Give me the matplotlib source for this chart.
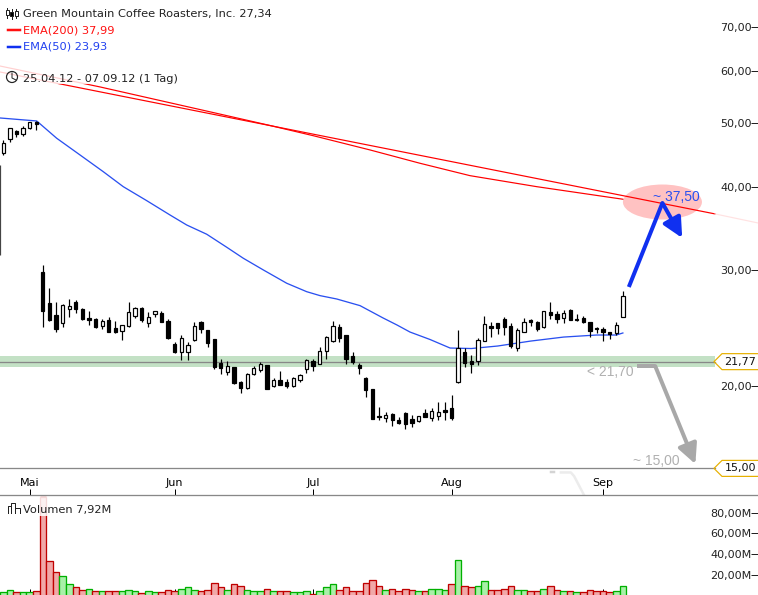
import matplotlib
matplotlib.use("Agg")
import numpy as np
import matplotlib.pyplot as plt
from matplotlib.lines import Line2D
from matplotlib.patches import Ellipse, Rectangle
from matplotlib.transforms import Affine2D, IdentityTransform

# daily candles 25.04.12 - 07.09.12
opens = [45.10, 47.35, 48.69, 48.18, 49.20, 50.25,
         29.77, 26.73, 25.63, 24.92, 26.17, 26.83, 26.17, 25.36, 25.27, 24.66, 25.18, 24.48, 24.23, 24.66,
         25.54, 26.27, 24.92, 25.72, 25.81, 25.09, 23.15, 22.51, 22.51, 23.47, 25.01, 24.31, 23.56, 21.66,
         20.99, 21.36, 20.28, 19.86, 20.85, 21.14, 21.51, 20.00, 20.42, 20.28, 20.00, 20.42, 21.22, 21.81,
         21.59, 22.59, 23.39, 24.57, 23.89, 22.20, 21.51, 20.56, 19.79, 18.01, 17.89, 18.14, 17.76, 18.20,
         17.83, 17.70, 18.20, 17.89, 18.01, 18.39, 18.52, 20.28, 22.51, 21.81, 21.81, 23.39, 24.66, 24.92,
         25.27, 24.66, 22.83, 24.14, 25.18, 25.01, 24.57, 25.90, 25.72, 25.36, 26.08, 25.27, 25.36, 25.01,
         24.48, 24.40, 24.14, 24.06, 25.45]
closes = [46.69, 49.20, 48.18, 49.20, 50.25, 49.90,
          25.99, 25.18, 24.40, 26.54, 26.45, 26.17, 25.27, 25.18, 24.57, 25.09, 24.14, 24.14, 24.74, 25.90,
          26.27, 25.18, 25.45, 25.99, 25.01, 23.64, 22.51, 23.64, 23.07, 24.66, 24.40, 23.23, 21.36, 21.29,
          21.44, 20.21, 19.86, 20.85, 21.29, 21.59, 19.79, 20.42, 20.07, 20.00, 20.56, 20.78, 21.89, 21.44,
          22.59, 23.72, 24.66, 23.64, 21.97, 21.74, 21.29, 19.72, 17.83, 17.95, 18.07, 17.76, 17.58, 17.52,
          17.58, 18.01, 17.95, 18.33, 18.26, 18.26, 17.89, 22.83, 21.66, 21.59, 23.47, 24.83, 24.48, 24.48,
          24.57, 22.99, 24.31, 25.01, 25.01, 24.40, 25.99, 25.63, 25.27, 25.81, 25.18, 25.18, 25.01, 24.23,
          24.40, 24.14, 23.97, 24.74, 27.34]
highs = [47.18, 49.20, 48.86, 49.57, 50.25, 50.42,
         30.51, 28.18, 26.83, 26.64, 27.11, 27.01, 26.27, 25.99, 25.36, 25.27, 25.45, 25.09, 24.74, 26.83,
         26.36, 26.36, 25.90, 25.99, 25.99, 25.27, 23.31, 23.89, 23.31, 25.01, 25.09, 24.31, 23.56, 21.97,
         21.81, 21.36, 20.35, 20.92, 21.44, 21.74, 21.51, 20.56, 21.07, 20.49, 20.63, 20.85, 21.97, 21.97,
         22.91, 23.81, 25.09, 24.83, 23.89, 22.51, 21.66, 20.63, 19.79, 18.59, 18.26, 18.20, 17.95, 18.26,
         18.07, 18.01, 18.46, 18.52, 18.91, 18.91, 19.38, 24.31, 22.83, 22.28, 23.64, 25.54, 25.01, 24.92,
         25.45, 24.92, 24.48, 25.36, 25.27, 25.09, 25.99, 26.83, 25.99, 26.08, 26.17, 25.72, 25.54, 25.01,
         24.57, 24.57, 24.14, 25.01, 27.88]
lows = [44.80, 46.85, 47.68, 47.85, 49.03, 48.86,
        24.57, 25.09, 24.14, 24.57, 25.45, 25.81, 25.18, 24.74, 24.48, 24.40, 24.14, 24.06, 23.47, 24.57,
        25.36, 25.01, 24.57, 25.45, 25.01, 23.56, 22.43, 21.89, 21.89, 23.39, 24.06, 22.91, 21.22, 20.85,
        20.78, 20.14, 19.52, 19.79, 20.78, 20.99, 19.79, 19.93, 20.07, 19.86, 19.93, 20.28, 20.92, 21.07,
        21.59, 21.97, 23.31, 23.31, 21.59, 21.59, 20.85, 19.25, 17.83, 17.76, 17.64, 17.40, 17.52, 17.22,
        17.34, 17.64, 17.95, 17.70, 17.76, 17.76, 17.76, 20.21, 21.36, 20.92, 21.51, 23.39, 23.72, 23.97,
        23.89, 22.83, 22.59, 24.14, 24.66, 24.23, 24.48, 25.27, 24.92, 24.92, 25.18, 25.09, 24.92, 23.72,
        24.06, 23.39, 23.56, 23.89, 25.45]

# volume in millions, g = up day, r = down day
volumes = [3.7, 5.9, 3.7, 3.7, 3.7, 5.0, 95.0, 33.8, 23.3, 19.4, 10.8, 8.5, 5.9, 6.9, 5.0, 5.0, 4.1, 4.1, 5.0,
           5.9, 5.0, 2.7, 4.1, 3.1, 3.1, 5.9, 5.0, 6.9, 7.9, 5.9, 5.0, 5.9, 12.7, 7.9, 5.9, 10.8, 8.9, 5.9,
           5.0, 4.1, 6.9, 5.0, 5.0, 4.1, 3.1, 3.1, 5.0, 2.1, 4.1, 7.9, 11.7, 5.9, 7.9, 5.0, 5.0, 12.7, 14.9,
           8.9, 5.9, 6.9, 5.0, 6.9, 5.9, 5.0, 5.0, 6.9, 6.9, 5.9, 10.8, 34.8, 9.8, 7.9, 8.9, 13.7, 5.9, 5.9,
           6.9, 8.9, 5.9, 5.9, 5.0, 5.0, 6.9, 8.9, 5.9, 4.1, 4.1, 3.1, 3.1, 5.9, 4.1, 4.1, 3.1, 4.1, 8.9]
volume_dirs = "ggrggrrrrggrrgrgrrgggrggrrrgggrrrrgrrgggrgrrgggrggg" \
              "rrrrrrrgrrrrgrgggrgrrggrrrrggrrgrrgrgrrrrrgg"

ema50_idx = [-0.5, 5.07, 8.1, 11.64, 15.17, 18.2, 21.76, 25.29, 27.83, 30.86, 33.9, 36.41, 39.45, 43.0, 46.03,
             48.05, 50.59, 54.12, 57.6, 59.73, 61.7, 64.74, 67.78, 71, 75, 80, 85, 90, 93, 94]
ema50_val = [50.95, 50.42, 47.47, 44.78, 42.24, 40.09, 38.18, 36.32, 35.07, 33.96, 32.45, 31.23, 29.98, 28.62,
             27.79, 27.41, 27.09, 26.47, 25.36, 24.74, 24.14, 23.52, 22.83, 22.79, 22.99, 23.39, 23.72, 23.89,
             23.89, 24.06]
ema200_idx = [-0.5, 14.7, 32.12, 40.47, 47.0, 55.64, 63.22, 70.81, 80.93, 94.0]
ema200_val = [61.08, 56.77, 51.85, 49.63, 47.90, 45.57, 43.50, 41.66, 40.09, 38.37]

# trend line and its faded end
trend_idx = [-0.5, 108.0]
trend_val = [59.82, 36.45]
trend_fade_idx = [108.0, 114.5]
trend_fade_val = [36.45, 35.32]

support_level = 21.77
support_band = (21.36, 22.20)
target_level = 15.00

blue_arrow_idx = [94.9, 100.0, 103.0]
blue_arrow_val = [28.25, 37.87, 33.52]
grey_arrow_idx = [96.2, 98.9, 105.0]
grey_arrow_val = [21.44, 21.44, 15.23]

price_ticks = [20, 30, 40, 50, 60, 70]
price_labels = ["20,00", "30,00", "40,00", "50,00", "60,00", "70,00"]
volume_ticks = [20, 40, 60, 80]
volume_labels = ["20,00M", "40,00M", "60,00M", "80,00M"]
month_idx = [4, 26, 47, 68, 91]
month_labels = ["Mai", "Jun", "Jul", "Aug", "Sep"]

W, H = 758, 595
GREY = "#888888"
PX = 0.72  # one pixel in points at dpi 100

plt.rcParams["font.family"] = "DejaVu Sans"
plt.rcParams["font.size"] = 8.0
plt.rcParams["text.color"] = "#222222"

fig = plt.figure(figsize=(W / 100, H / 100), dpi=100)
vol = fig.add_axes([0, 0, 1, 100 / H])
ax = fig.add_axes([0, 100 / H, 1, 495 / H])
ax.patch.set_visible(False)

# image pixels (origin top left) for the chrome around the chart
px = Affine2D().scale(1, -1).translate(0, H)

idx = np.arange(len(opens))
opens = np.array(opens)
closes = np.array(closes)

ax.set_yscale("log")
ax.set_xlim(-0.5, 114.5)
ax.set_ylim(13.67, 76.9)
vol.set_xlim(-0.5, 114.5)
vol.set_ylim(0.67, 97)

# support band and level lines
ax.fill_between([-0.5, 108], support_band[0], support_band[1], color="#c3e1c5", lw=0, zorder=1)
ax.plot([-0.5, 108], [support_level] * 2, color=GREY, lw=1.3 * PX, zorder=1.5)
ax.plot([-0.5, 108], [target_level] * 2, color=GREY, lw=1.3 * PX, zorder=1.5)

# marker round the target price, in pixels so the log scale does not bend it
cx, cy = ax.transData.transform((100.0, 38.0))
ax.add_patch(Ellipse((cx, cy), 79, 35, transform=IdentityTransform(), color="#ffc2c2", lw=0, zorder=1))

# averages and trend line
ax.plot(trend_idx, trend_val, color="#ff0000", lw=1.2 * PX, zorder=2)
ax.plot(trend_fade_idx, trend_fade_val, color="#ffe2e2", lw=1.2 * PX, zorder=2)
ax.plot(ema200_idx, ema200_val, color="#ff0000", lw=1.2 * PX, zorder=2)
ax.plot(ema50_idx, ema50_val, color="#2a50f0", lw=1.3 * PX, zorder=2)

# candles
bottoms = np.minimum(opens, closes)
heights = np.abs(closes - opens)
faces = ["white" if c > o else "black" for o, c in zip(opens, closes)]
ax.vlines(idx, lows, highs, color="black", lw=1.2 * PX, zorder=3)
ax.bar(idx, heights, bottom=bottoms, width=0.5, color=faces, edgecolor="black", lw=1.2 * PX, zorder=4)
ax.vlines(-0.45, 31.6, 43.2, color="#444444", lw=1.2 * PX, zorder=3)

# faint remains of the watermark
ax.plot([83.1, 83.5], [14.79, 14.79], color="#d4d4d4", lw=2.5 * PX, zorder=1)
ax.plot([84.6, 86.1, 86.6, 88.1], [14.79, 14.79, 14.60, 13.67], color="#ececec", lw=2.5 * PX, zorder=1)

# drawn arrows
ax.plot(blue_arrow_idx[:2], blue_arrow_val[:2], color="#1030f0", lw=4 * PX, zorder=5, solid_capstyle="butt")
ax.annotate("", xy=(blue_arrow_idx[2], blue_arrow_val[2]), xytext=(blue_arrow_idx[1], blue_arrow_val[1]),
            arrowprops=dict(arrowstyle="-|>,head_length=0.85,head_width=0.42", color="#1030f0", lw=4 * PX,
                            mutation_scale=14, shrinkA=0, shrinkB=0), zorder=5)
ax.plot(grey_arrow_idx[:2], grey_arrow_val[:2], color="#a8a8a8", lw=4 * PX, zorder=5, solid_capstyle="butt")
ax.annotate("", xy=(grey_arrow_idx[2], grey_arrow_val[2]), xytext=(grey_arrow_idx[1], grey_arrow_val[1]),
            arrowprops=dict(arrowstyle="-|>,head_length=0.85,head_width=0.42", color="#a8a8a8", lw=4 * PX,
                            mutation_scale=14, shrinkA=0, shrinkB=0), zorder=5)
ax.text(98.5, 38.7, "~ 37,50", color="#2a50f0", family="Liberation Sans", fontsize=10, zorder=6, va="center")
ax.text(88.6, 20.97, "< 21,70", color="#b0b0b0", family="Liberation Sans", fontsize=10, zorder=6, va="center")
ax.text(95.6, 15.40, "~ 15,00", color="#b0b0b0", family="Liberation Sans", fontsize=10, zorder=6, va="center")

# volume bars
for i, (v, d) in enumerate(zip(volumes, volume_dirs)):
    face, edge = ("#a8f0a8", "#00b000") if d == "g" else ("#f0a8a8", "#c00000")
    vol.bar(i, v, width=1.0, color=face, edgecolor=edge, lw=1.3 * PX, zorder=2)

# axes
for a in (ax, vol):
    for side in ("top", "left", "right", "bottom"):
        a.spines[side].set_visible(False)
    a.yaxis.tick_right()
    a.minorticks_off()
ax.spines["bottom"].set_visible(True)
ax.spines["bottom"].set_color(GREY)
ax.spines["bottom"].set_linewidth(1.3 * PX)

ax.set_yticks(price_ticks, price_labels)
ax.yaxis.set_minor_locator(plt.NullLocator())
vol.set_yticks(volume_ticks, volume_labels)
for a in (ax, vol):
    a.tick_params(axis="y", direction="in", length=5, width=PX, pad=-4.5, colors="#222222")
    for lab in a.get_yticklabels():
        lab.set_ha("right")
ax.set_xticks(month_idx, month_labels)
ax.tick_params(axis="x", direction="in", length=4, width=PX, pad=-12.5)
vol.set_xticks(month_idx, [""] * 5)
vol.tick_params(axis="x", direction="in", length=4, width=PX, zorder=5)

# level tags on the right
for level, label in ((support_level, "21,77"), (target_level, "15,00")):
    y = ax.transData.transform((0, level))[1]
    pts = [(758, y + 8), (722, y + 8), (714, y), (722, y - 8), (758, y - 8)]
    ax.add_line(Line2D(*zip(*pts), transform=IdentityTransform(), color="#e6b000", lw=1.2 * PX, clip_on=False,
                       zorder=6))
    fig.text(756 / W, y / H, label, ha="right", va="center", color="#111111", fontsize=8.0)

# legend haze, lines under it fade out
ax.add_patch(Rectangle((0, 0), 280, 84, transform=px, color="white", alpha=0.82, lw=0, zorder=7))
vol.add_patch(Rectangle((0, 497), 115, 19, transform=px, color="white", alpha=0.85, lw=0, zorder=7))

LEGEND_SIZE = 8.2
fig.text(23 / W, 1 - 14.5 / H, "Green Mountain Coffee Roasters, Inc. 27,34", va="center", zorder=9,
         fontsize=LEGEND_SIZE)
fig.text(23 / W, 1 - 30.5 / H, "EMA(200) 37,99", va="center", color="#ff1010", zorder=9, fontsize=LEGEND_SIZE)
fig.text(23 / W, 1 - 46.5 / H, "EMA(50) 23,93", va="center", color="#2040f0", zorder=9, fontsize=LEGEND_SIZE)
fig.text(23 / W, 1 - 78.5 / H, "25.04.12 - 07.09.12 (1 Tag)", va="center", zorder=9, fontsize=LEGEND_SIZE)
fig.text(23 / W, 1 - 510 / H, "Volumen 7,92M", va="center", zorder=9, fontsize=LEGEND_SIZE)

# little icons next to the legend texts
icons = [
    ([8, 20], [29.5, 29.5], "#ff1010", 2.5),
    ([8, 20], [46.5, 46.5], "#1030f0", 2.5),
    ([7, 7], [8, 18], "#222222", 1),
    ([11.5, 11.5], [9, 19], "#222222", 1),
    ([16, 16], [9, 18], "#222222", 1),
    ([12, 12, 16], [73, 78, 80], "#222222", 1),
    ([7.5, 7.5, 11, 11, 11, 15, 15, 15, 20, 20], [513, 506, 506, 513, 503, 503, 513, 508, 508, 513], "#222222", 1),
]
for xs, ys, col, lw in icons:
    fig.add_artist(Line2D(xs, ys, transform=px, color=col, lw=lw * PX, zorder=9))
for x, y0, y1, face in ((7, 10, 15, "white"), (11.5, 12, 16, "black"), (16, 11, 16, "white")):
    fig.add_artist(Rectangle((x - 1.5, y0), 3, y1 - y0, transform=px, facecolor=face, edgecolor="#222222", lw=PX,
                             zorder=9))
fig.add_artist(Ellipse((12, 77), 11, 11, transform=px, facecolor="none", edgecolor="#222222", lw=1.2 * PX, zorder=9))

fig.savefig("out.png", dpi=100)
